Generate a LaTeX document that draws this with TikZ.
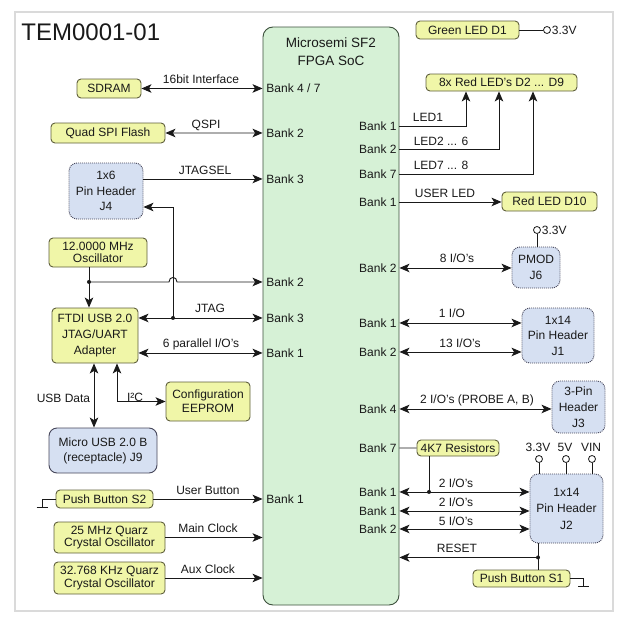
\documentclass[tikz,border=0pt]{standalone}
\usepackage{fontspec}
\setmainfont{Liberation Sans}
\usetikzlibrary{arrows.meta}
\definecolor{yel}{RGB}{240,246,168}
\definecolor{ybord}{RGB}{95,95,60}
\definecolor{blu}{RGB}{214,224,242}
\definecolor{bbord}{RGB}{70,70,90}
\definecolor{fpgac}{RGB}{214,241,214}
\definecolor{fbord}{RGB}{60,80,60}
\definecolor{framec}{RGB}{218,218,218}
\definecolor{ink}{RGB}{25,25,25}
\begin{document}
\begin{tikzpicture}[x=1pt,y=-1pt,line width=0.9pt,color=ink,
  >={Stealth[length=10pt,width=8.5pt,inset=2.5pt]},
  box/.style={inner sep=0pt, align=center, font=\fontsize{12}{15.5}\selectfont},
  ybox/.style={box, draw=ybord, fill=yel, rounded corners=4pt},
  bbox/.style={box, draw=bbord, fill=blu, rounded corners=8pt, dash pattern=on 1pt off 1pt},
  jbox/.style={box, draw=bbord, fill=blu, rounded corners=8pt},
  lbl/.style={inner sep=0pt, anchor=base, yshift=-4.3pt, font=\fontsize{12}{14}\selectfont},
  bkl/.style={inner sep=0pt, anchor=base west, yshift=-4.3pt, text height=8.7pt, text depth=0pt, font=\fontsize{12}{14}\selectfont},
  bkr/.style={bkl, anchor=base east},
  pin/.style={circle, draw, fill=white, minimum size=7pt, inner sep=0pt, line width=0.8pt},
  dot/.style={circle, fill, minimum size=4pt, inner sep=0pt}
]
\useasboundingbox (0,0) rectangle (627,624);
\draw[framec, line width=2pt] (15,12) rectangle (613,611);
\node[anchor=base west, inner sep=0pt, font=\fontsize{24}{26}\selectfont] (title) at (21,40) {TEM0001-01};

% FPGA
\node[draw=fbord, fill=fpgac, rounded corners=10pt, minimum width=136, minimum height=578, inner sep=0pt] (fpga) at (331,316) {};
\node[box, font=\fontsize{13.5}{18}\selectfont] (ftitle) at (331,52) {Microsemi SF2\\FPGA SoC};

% left bank labels
\node[bkl] (lb47) at (266,88.5) {Bank 4 / 7};
\node[bkl] (lb2a) at (266,133) {Bank 2};
\node[bkl] (lb3a) at (266,179) {Bank 3};
\node[bkl] (lb2b) at (266,282) {Bank 2};
\node[bkl] (lb3b) at (266,318) {Bank 3};
\node[bkl] (lb1a) at (266,353) {Bank 1};
\node[bkl] (lb1b) at (266,499) {Bank 1};
% right bank labels
\node[bkr] (rb1a) at (397,126) {Bank 1};
\node[bkr] (rb2a) at (397,149) {Bank 2};
\node[bkr] (rb7a) at (397,174) {Bank 7};
\node[bkr] (rb1b) at (397,202) {Bank 1};
\node[bkr] (rb2b) at (397,268) {Bank 2};
\node[bkr] (rb1c) at (397,323) {Bank 1};
\node[bkr] (rb2c) at (397,352) {Bank 2};
\node[bkr] (rb4) at (397,409) {Bank 4};
\node[bkr] (rb7b) at (397,448) {Bank 7};
\node[bkr] (rb1d) at (397,492) {Bank 1};
\node[bkr] (rb1e) at (397,511) {Bank 1};
\node[bkr] (rb2d) at (397,529) {Bank 2};

% left nodes
\node[ybox, minimum width=64, minimum height=19] (sdram) at (109,88.5) {SDRAM};
\node[ybox, minimum width=114, minimum height=20] (qspi) at (108,133) {Quad SPI Flash};
\node[bbox, minimum width=74, minimum height=56] (j4) at (106,191) {1x6\\Pin Header\\J4};
\node[ybox, minimum width=98, minimum height=29, font=\fontsize{12}{12.5}\selectfont] (osc) at (98,252.5) {12.0000 MHz\\Oscillator};
\node[ybox, minimum width=86, minimum height=55, font=\fontsize{12}{16}\selectfont] (ftdi) at (95,335.5) {FTDI USB 2.0\\JTAG/UART\\Adapter};
\node[ybox, minimum width=84, minimum height=39, font=\fontsize{12}{14}\selectfont] (eeprom) at (208,401.5) {Configuration\\EEPROM};
\node[jbox, minimum width=108, minimum height=45, font=\fontsize{12}{15}\selectfont] (j9) at (103,450.5) {Micro USB 2.0 B\\(receptacle) J9};
\node[ybox, minimum width=97, minimum height=18] (s2) at (104.5,499) {Push Button S2};
\node[ybox, minimum width=111, minimum height=31, font=\fontsize{12}{12.5}\selectfont] (q25) at (109.5,537.5) {25 MHz Quarz\\Crystal Oscillator};
\node[ybox, minimum width=111, minimum height=32, font=\fontsize{12}{12.5}\selectfont] (q32) at (109.5,578) {32.768 KHz Quarz\\Crystal Oscillator};

% right nodes
\node[ybox, minimum width=103, minimum height=18] (gled) at (467.5,30) {Green LED D1};
\node[pin] (c1) at (547,30) {};
\node[lbl, anchor=base west, xshift=0.5pt] (c1t) at (c1.east) {3.3V};
\node[ybox, minimum width=151, minimum height=17] (led8) at (501.5,82.5) {8x Red LED's D2 ... D9};
\node[ybox, minimum width=95, minimum height=19] (d10) at (549.5,201.5) {Red LED D10};
\node[bbox, minimum width=48, minimum height=41, font=\fontsize{12}{16}\selectfont] (pmod) at (536,267.5) {PMOD\\J6};
\node[pin] (c2) at (537,230) {};
\node[lbl, anchor=base west, xshift=0.5pt] (c2t) at (c2.east) {3.3V};
\node[bbox, minimum width=72, minimum height=55] (j1) at (558,335.5) {1x14\\Pin Header\\J1};
\node[bbox, minimum width=53, minimum height=52, font=\fontsize{12}{16}\selectfont] (j3) at (578.5,407) {3-Pin\\Header\\J3};
\node[ybox, minimum width=82, minimum height=16] (res) at (458,448) {4K7 Resistors};
\node[bbox, minimum width=73, minimum height=69, font=\fontsize{12}{16.5}\selectfont] (j2) at (566.5,508.5) {1x14\\Pin Header\\J2};
\node[pin] (p1) at (539,459) {};
\node[pin] (p2) at (566,459) {};
\node[pin] (p3) at (592,459) {};
\node[lbl] (p1t) at (538,447) {3.3V};
\node[lbl] (p2t) at (565,447) {5V};
\node[lbl] (p3t) at (591,447) {VIN};
\node[ybox, minimum width=97, minimum height=17] (s1) at (521.5,578.5) {Push Button S1};

% ---- left connectors
\draw[<->] (sdram.east) -- (fpga.west |- lb47);
\draw[<->] (qspi.east) -- (fpga.west |- lb2a);
\draw[->] (j4.east |- lb3a) -- (fpga.west |- lb3a);
\coordinate (oj) at (osc.south -| 89,0);
\coordinate (ojc) at (oj |- lb2b);
\coordinate (jx) at (173,0);
\coordinate (jxc) at (jx |- lb3b);
\coordinate (hop) at (jx |- lb2b);
\draw[->] (oj) -- (oj |- ftdi.north);
\node[dot] (d1) at (ojc) {};
\draw[->] (ojc) -- ([xshift=-4pt]hop) .. controls +(0,-6) and +(0,-6) .. ([xshift=4pt]hop) -- (fpga.west |- lb2b);
\draw[<->] (ftdi.east |- lb3b) -- (fpga.west |- lb3b);
\node[dot] (d2) at (jxc) {};
\coordinate (j4r) at ([yshift=-16pt]j4.east);
\draw[->] (jxc) |- (j4r);
\draw[<->] (ftdi.east |- lb1a) -- (fpga.west |- lb1a);
\draw[<->] ([xshift=-1pt]ftdi.south) -- ([xshift=-1pt]ftdi.south |- j9.north);
\draw[<->] ([xshift=22pt]ftdi.south) |- (eeprom.west);
\draw[->] (s2.east) -- (fpga.west |- s2);
\coordinate (g2) at ([xshift=-13pt,yshift=-8pt]s2.west);
\draw[line width=0.8pt] (s2.west) -| (g2);
\draw[line width=0.8pt] ([xshift=-6pt]g2) -- ([xshift=5pt]g2);
\draw[->] (q25.east) -- (fpga.west |- q25);
\draw[->] (q32.east) -- (fpga.west |- q32);

% ---- right connectors
\draw[line width=0.8pt] (gled.east) -- (c1.west);
\draw[->] (fpga.east |- rb1a) -| ([xshift=-35.5pt]led8.south);
\draw[->] (fpga.east |- rb2a) -| ([xshift=-2.5pt]led8.south);
\draw[->] (fpga.east |- rb7a) -| ([xshift=31.5pt]led8.south);
\draw[->] (fpga.east |- rb1b) -- (d10.west |- rb1b);
\draw[<->] (fpga.east |- rb2b) -- (pmod.west |- rb2b);
\draw[line width=0.8pt] (c2.south) -- (c2.south |- pmod.north);
\draw[<->] (fpga.east |- rb1c) -- (j1.west |- rb1c);
\draw[<->] (fpga.east |- rb2c) -- (j1.west |- rb2c);
\draw[<->] (fpga.east |- rb4) -- (j3.west |- rb4);
\draw (fpga.east |- rb7b) -- (res.west);
\coordinate (rj) at ([xshift=-29pt]res.south |- rb1d);
\draw (res.south -| rj) -- (rj);
\node[dot] (d3) at (rj) {};
\draw[<->] (fpga.east |- rb1d) -- (j2.west |- rb1d);
\draw[<->] (fpga.east |- rb1e) -- (j2.west |- rb1e);
\draw[<->] (fpga.east |- rb2d) -- (j2.west |- rb2d);
\draw[line width=0.8pt] (p1.south) -- (p1.south |- j2.north);
\draw[line width=0.8pt] (p2.south) -- (p2.south |- j2.north);
\draw[line width=0.8pt] (p3.south) -- (p3.south |- j2.north);
\coordinate (rdot) at ([xshift=-28.5pt,yshift=-14pt]j2.south);
\draw[line width=0.8pt] (j2.south -| rdot) -- (s1.north -| rdot);
\node[dot] (d4) at (rdot) {};
\draw[->] (rdot) -- (fpga.east |- rdot);
\coordinate (g1) at ([xshift=13pt,yshift=-8pt]s1.east);
\draw[line width=0.8pt] (s1.east) -| (g1);
\draw[line width=0.8pt] ([xshift=-5pt]g1) -- ([xshift=6pt]g1);

% ---- labels
\node[lbl] at (201,79) {16bit Interface};
\node[lbl] at (206,124.5) {QSPI};
\node[lbl] at (205,170.5) {JTAGSEL};
\node[lbl] at (210,308.5) {JTAG};
\node[lbl] at (201,343) {6 parallel I/O's};
\node[lbl] at (63.5,398) {USB Data};
\node[lbl] at (135,397) {I²C};
\node[lbl] at (208,490.5) {User Button};
\node[lbl] at (208,528) {Main Clock};
\node[lbl] at (208,569) {Aux Clock};
\node[lbl] at (428,117) {LED1};
\node[lbl] at (441,141) {LED2 ... 6};
\node[lbl] at (441,165) {LED7 ... 8};
\node[lbl] at (445,193) {USER LED};
\node[lbl] at (457,258.5) {8 I/O's};
\node[lbl] at (452,313) {1 I/O};
\node[lbl] at (460,343) {13 I/O's};
\node[lbl] at (477,399) {2 I/O's (PROBE A, B)};
\node[lbl] at (456,483) {2 I/O's};
\node[lbl] at (456,502) {2 I/O's};
\node[lbl] at (456,521) {5 I/O's};
\node[lbl] at (457,548) {RESET};
\end{tikzpicture}
\end{document}
